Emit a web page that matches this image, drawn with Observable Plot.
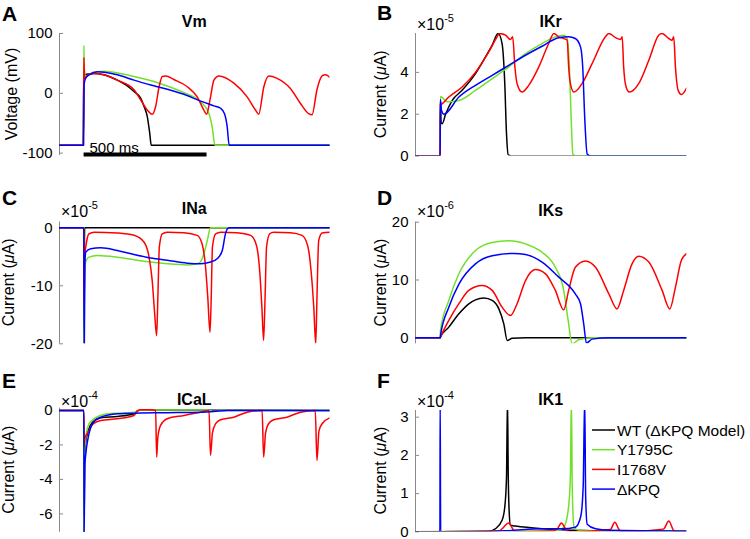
<!DOCTYPE html>
<html><head><meta charset="utf-8">
<script src="https://cdn.jsdelivr.net/npm/d3@7"></script>
<script src="https://cdn.jsdelivr.net/npm/@observablehq/plot@0.6"></script>
<style>
body{margin:0;background:#fff}
#root{position:relative;width:750px;height:539px;font-family:"Liberation Sans",Arial,Helvetica,sans-serif;overflow:hidden;background:#fff}
#root svg{position:absolute}
</style></head><body><div id="root"></div>
<script>
// ---------- series ----------
const seriesNames = ["WT (\u0394KPQ Model)", "Y1795C", "I1768V", "\u0394KPQ"];
const seriesColors = ["#000000", "#72e02a", "#ff0000", "#0000ff"];
const timeDomain = [0, 1100]; // ms

// ---------- A: Vm (mV) ----------
const vmWT = [[0,-87],[96,-87],[99,20],[102,30],[110,32],[140,33],[180,31],[235,22],[270,14],[303,3],[330,-8],[344,-22],[357,-39],[367,-67],[373,-87],[1100,-87]];
const vmY1795C = [[0,-87],[97,-87],[99,80],[101,40],[108,28],[125,33],[160,36],[180,37],[303,28],[411,16],[506,1],[574,-14],[608,-34],[622,-59],[632,-87],[1100,-87]];
const vmI1768V = [[0,-87],[97,-87],[99,60],[102,25],[115,30],[141,33],[180,31],[235,22],[303,6],[330,-11],[357,-28],[377,-35],[391,-22],[405,11],[418,28],[432,29],[465,23],[520,11],[560,-6],[587,-28],[598,-35],[612,-11],[628,22],[648,29],[709,17],[763,-6],[797,-28],[810,-35],[831,11],[851,29],[885,25],[939,8],[980,-17],[1013,-34],[1027,-36],[1047,6],[1068,29],[1081,31],[1099,27]];
const vmDKPQ = [[0,-87],[98,-87],[100,15],[105,24],[120,31],[154,36],[235,31],[303,22],[371,14],[438,6.7],[506,-1.7],[574,-13],[628,-21],[655,-25],[671,-34],[682,-56],[690,-87],[1100,-87]];
const vmTicks = [-100, 0, 100];
const scaleBarMs = [100, 600];
const scaleBarLabel = "500 ms";

// ---------- B: IKr (x1e-5 uA) ----------
const ikrWT = [[0,0],[100,0],[101,2.6],[104,1.6],[108,1.54],[122,2.0],[149,2.66],[189,3.14],[243,3.94],[284,4.74],[311,5.3],[335,5.86],[351,5.38],[362,3.46],[369,1.06],[376,0.06],[390,0],[1100,0]];
const ikrY1795C = [[0,0],[100,0],[101,2.85],[108,2.8],[128,2.6],[176,2.66],[243,3.14],[311,3.7],[378,4.26],[446,4.9],[513,5.38],[567,5.7],[601,5.78],[615,5.6],[624,4.26],[631,1.86],[638,0.1],[650,0],[1100,0]];
const ikrI1768V = [[0,0],[100,0],[101,2.46],[108,2.5],[135,2.82],[189,3.3],[243,4.0],[297,4.98],[331,5.7],[340,5.86],[365,5.78],[385,5.57],[394,5.7],[403,4.26],[412,3.46],[432,3.06],[459,3.38],[500,4.26],[540,5.38],[561,5.86],[581,5.7],[601,5.62],[615,5.54],[621,4.26],[628,3.46],[642,3.06],[675,3.46],[716,4.42],[770,5.7],[784,5.86],[811,5.66],[831,5.57],[838,5.7],[844,4.26],[854,3.3],[867,3.06],[905,3.46],[946,4.58],[986,5.78],[1000,5.86],[1027,5.62],[1040,5.54],[1047,5.7],[1054,4.26],[1065,3.14],[1078,2.94],[1100,3.26]];
const ikrDKPQ = [[0,0],[100,0],[101,2.7],[105,2.2],[115,2.0],[176,2.82],[243,3.38],[311,3.86],[378,4.34],[446,4.82],[513,5.25],[581,5.66],[621,5.7],[648,5.62],[669,5.22],[678,4.26],[686,1.86],[696,0.1],[710,0],[1100,0]];
const ikrTicks = [0, 2, 4];

// ---------- C: INa (x1e-5 uA) ----------
const inaWT = [[0,0],[99,0],[100,-20],[102,0],[1100,0]];
const inaY1795C = [[0,0],[99,0],[100,-20],[102,-8],[106,-6],[120,-5.06],[154,-4.77],[235,-5.06],[303,-5.5],[371,-5.9],[438,-6.2],[520,-6.4],[567,-6.1],[587,-4.5],[601,-2.2],[614,0],[1100,0]];
const inaI1768V = [[0,0],[99,0],[100,-13],[103,-5],[111,-2.2],[120,-1.03],[141,-0.75],[235,-0.9],[303,-1.3],[344,-2.5],[364,-5],[377,-9.1],[387,-14.8],[395,-18.6],[400,-12],[406,-3.3],[418,-1.03],[438,-0.75],[506,-0.85],[560,-1.3],[580,-2.8],[594,-6.8],[603,-12],[612,-18],[617,-12],[622,-3.3],[635,-1.03],[655,-0.75],[722,-0.85],[777,-1.3],[801,-3.05],[814,-7.4],[823,-13.7],[830,-19.4],[836,-12],[842,-3.3],[855,-1.03],[871,-0.75],[939,-0.85],[986,-1.3],[1009,-3.05],[1023,-7.4],[1034,-13.7],[1042,-20],[1047,-12],[1054,-2.2],[1068,-0.9],[1099,-0.75]];
const inaDKPQ = [[0,0],[99,0],[100,-20],[101,-20],[103,-6],[107,-4.2],[127,-3.6],[168,-3.45],[235,-3.9],[303,-4.6],[371,-5.2],[438,-5.6],[520,-6.1],[574,-6.2],[614,-5.9],[641,-5.34],[662,-3.9],[675,-1.0],[682,-0.2],[691,0],[1100,0]];
const inaTicks = [-20, -10, 0];

// ---------- D: IKs (x1e-6 uA) ----------
const iksWT = [[0,0],[100,0],[101,0.1],[135,1.84],[176,4.15],[216,5.88],[243,6.57],[277,6.9],[311,6.46],[338,5.0],[358,2.4],[372,-0.46],[392,-0.1],[446,0],[1100,0]];
const iksY1795C = [[0,0],[100,0],[101,1.2],[135,6.46],[176,11.07],[243,15.1],[311,16.5],[378,16.8],[446,16.25],[513,14.8],[567,12.2],[601,8.2],[619,3.0],[635,-1.04],[662,-0.35],[716,0],[1100,0]];
const iksI1768V = [[0,0],[100,0],[101,0.1],[135,3.0],[176,5.9],[216,8.2],[270,9.05],[311,8.2],[351,5.3],[385,3.86],[412,5.9],[446,9.9],[486,11.8],[527,11.07],[567,8.2],[601,4.84],[621,8.2],[648,12.2],[689,13.3],[730,12.2],[784,7.6],[817,5.0],[844,8.2],[878,12.8],[905,14.1],[946,13.1],[1000,8.2],[1031,5.0],[1054,8.76],[1078,13.4],[1100,14.6]];
const iksDKPQ = [[0,0],[100,0],[101,0.3],[135,5.3],[176,9.3],[243,12.8],[311,14.2],[399,14.6],[446,14.4],[513,13.1],[581,10.5],[648,7.6],[669,5.9],[682,2.4],[693,-0.92],[716,-0.23],[784,0],[1100,0]];
const iksTicks = [0, 10, 20];

// ---------- E: ICaL (x1e-4 uA) ----------
const icalWT = [[0,0],[99,0],[100,-7.06],[102,-3.2],[106,-1.93],[117,-1.16],[134,-0.68],[168,-0.43],[235,-0.35],[303,-0.19],[317,-0.02],[330,0.02],[1100,0]];
const icalY1795C = [[0,0],[99,0],[100,-7.0],[102,-2.5],[107,-1.55],[120,-0.77],[141,-0.48],[195,-0.19],[303,-0.1],[330,0.02],[600,0.02],[630,-0.05],[660,0],[1100,0]];
const icalI1768V = [[0,0],[99,0],[100,-2.1],[103,-1.6],[117,-1.26],[134,-0.81],[168,-0.58],[235,-0.48],[303,-0.29],[317,-0.04],[330,0.04],[371,0.04],[391,0],[395,-2.7],[400,-1.55],[411,-0.87],[438,-0.48],[506,-0.29],[574,-0.1],[608,0],[614,-2.6],[622,-1.3],[635,-0.77],[655,-0.54],[709,-0.39],[763,-0.1],[824,0],[830,-2.7],[838,-1.3],[850,-0.77],[871,-0.54],[925,-0.39],[980,-0.1],[1040,0],[1047,-2.9],[1055,-1.2],[1068,-0.77],[1099,-0.43]];
const icalDKPQ = [[0,0],[99,0],[100,-7.06],[101,-6],[103,-3.2],[107,-2.5],[117,-1.55],[134,-0.77],[168,-0.39],[235,-0.19],[330,-0.15],[438,-0.13],[574,-0.1],[628,-0.06],[682,0],[1100,0]];
const icalTicks = [-6, -4, -2, 0];

// ---------- F: IK1 (x1e-4 uA) ----------
const ik1WT = [[0,0],[100,0],[297,0.01],[324,0.08],[351,0.3],[362,0.65],[369,1.43],[373,3.5],[376,1.5],[380,0.5],[385,0.17],[405,0.15],[513,0.08],[648,0.04],[784,0.02],[1100,0.01]];
const ik1Y1795C = [[0,0],[100,0.01],[500,0.02],[580,0.05],[601,0.12],[619,0.56],[628,1.43],[632,3.5],[636,1.0],[643,0.12],[662,0.04],[784,0.02],[1100,0.01]];
const ik1I1768V = [[0,0],[100,0],[340,0.02],[351,0.08],[378,0.23],[392,0.1],[402,0.0],[560,0.02],[575,0.08],[592,0.23],[608,0.08],[621,0.0],[790,0.06],[808,0.25],[825,0.06],[833,0.0],[1005,0.07],[1027,0.28],[1045,0.05],[1052,0.0],[1100,0]];
const ik1DKPQ = [[0,0],[99,0],[100,3.5],[102,0.0],[300,0.01],[378,0.03],[513,0.08],[594,0.08],[648,0.12],[670,0.4],[680,1.2],[686,3.5],[690,0.9],[696,0.2],[730,0.08],[784,0.04],[1100,0.02]];
const ik1Ticks = [0, 1, 2, 3];

// ---------- layout ----------
const root = document.getElementById("root");
const axisColor = "#8a8a8a";
const fontFamily = "'Liberation Sans', Arial, Helvetica, sans-serif";

const panels = [
  {letter:"A", title:"Vm", left:0, top:0, h:180, mL:59, mR:45.5, mT:33, mB:25, yDomain:[-104,100], ticks:vmTicks, series:[vmWT,vmY1795C,vmI1768V,vmDKPQ], ylabel:"Voltage (mV)", labelX:17, exp:null, titleY:27, letterY:21},
  {letter:"B", title:"IKr", left:375, top:0, h:180, mL:40, mR:63.7, mT:33, mB:24.5, yDomain:[0,5.86], ticks:ikrTicks, series:[ikrWT,ikrY1795C,ikrI1768V,ikrDKPQ], ylabel:"Current", labelX:386, exp:"-5", expY:30, titleY:27, letterY:20},
  {letter:"C", title:"INa", left:0, top:180, h:180, mL:59, mR:45.5, mT:41.5, mB:16.7, yDomain:[-20,1], ticks:inaTicks, series:[inaWT,inaY1795C,inaI1768V,inaDKPQ], ylabel:"Current", labelX:14, exp:"-5", expY:216.5, titleY:213.5, letterY:205},
  {letter:"D", title:"IKs", left:375, top:180, h:180, mL:40, mR:63.7, mT:41.7, mB:16.7, yDomain:[-1.04,20], ticks:iksTicks, series:[iksWT,iksY1795C,iksI1768V,iksDKPQ], ylabel:"Current", labelX:386, exp:"-6", expY:217, titleY:215.5, letterY:205},
  {letter:"E", title:"ICaL", left:0, top:360, h:179, mL:59, mR:45.5, mT:47.7, mB:7.3, yDomain:[-7.06,0.13], ticks:icalTicks, series:[icalWT,icalY1795C,icalI1768V,icalDKPQ], ylabel:"Current", labelX:14, exp:"-4", expY:406.5, titleY:405, letterY:388},
  {letter:"F", title:"IK1", left:375, top:360, h:179, mL:40, mR:63.7, mT:50, mB:7.7, yDomain:[0,3.175], ticks:ik1Ticks, series:[ik1WT,ik1Y1795C,ik1I1768V,ik1DKPQ], ylabel:"Current", labelX:386, exp:"-4", expY:406.5, titleY:405, letterY:388}
];

for (const p of panels) {
  const plotW = 375 - p.mL - p.mR;
  const marks = [
    Plot.ruleX([timeDomain[0]], {stroke: axisColor, strokeWidth: 1}),
    Plot.tickY(p.ticks, {y: d => d, stroke: axisColor, strokeWidth: 1, insetRight: plotW - 4}),
    Plot.text(p.ticks, {y: d => d, frameAnchor: "left", dx: -7, textAnchor: "end", text: d => String(d), fontSize: 15, fill: "#000"}),
    ...p.series.map((s, i) => Plot.line(s, {x: d => d[0], y: d => d[1], stroke: seriesColors[i], strokeWidth: 1.5, curve: "monotone-x", clip: true}))
  ];
  if (p.letter === "A") {
    marks.push(Plot.ruleY([-102.5], {x1: scaleBarMs[0], x2: scaleBarMs[1], stroke: "#000", strokeWidth: 4}));
    marks.push(Plot.text([scaleBarLabel], {x: scaleBarMs[0] + 22, y: -100, text: d => d, textAnchor: "start", lineAnchor: "bottom", fontSize: 15, fill: "#000"}));
  }
  const chart = Plot.plot({
    width: 375, height: p.h,
    marginLeft: p.mL, marginRight: p.mR, marginTop: p.mT, marginBottom: p.mB,
    x: {domain: timeDomain, axis: null},
    y: {domain: p.yDomain, axis: null},
    style: {fontFamily, fontSize: "15px", background: "transparent", overflow: "visible"},
    marks
  });
  chart.style.position = "absolute";
  chart.style.left = p.left + "px";
  chart.style.top = p.top + "px";
  root.appendChild(chart);
}

// ---------- text overlay ----------
const ov = d3.select(root).append("svg").attr("width", 750).attr("height", 539)
  .style("left", "0px").style("top", "0px").style("font-family", fontFamily).style("pointer-events", "none");

for (const p of panels) {
  const x0 = p.left + p.mL, x1 = p.left + 375 - p.mR;
  const y0 = p.top + p.mT, y1 = p.top + p.h - p.mB;
  ov.append("text").attr("x", p.left + 2).attr("y", p.letterY).attr("font-size", 21).attr("font-weight", "bold").text(p.letter);
  ov.append("text").attr("x", (x0 + x1) / 2).attr("y", p.titleY).attr("text-anchor", "middle").attr("font-size", 16).attr("font-weight", "bold").text(p.title);
  const lab = ov.append("text").attr("transform", `translate(${p.labelX},${(y0 + y1) / 2}) rotate(-90)`).attr("text-anchor", "middle").attr("font-size", 16);
  if (p.ylabel === "Current") {
    lab.append("tspan").text("Current (");
    lab.append("tspan").attr("font-style", "italic").text("\u03bc");
    lab.append("tspan").text("A)");
  } else lab.text(p.ylabel);
  if (p.exp) {
    const t = ov.append("text").attr("x", x0 + 2).attr("y", p.expY).attr("font-size", 16);
    t.append("tspan").text("\u00d710");
    t.append("tspan").attr("font-size", 11).attr("dy", -8).text(p.exp);
  }
}

// legend in panel F
const legX = 592, legY0 = 430, legStep = 19.7;
seriesNames.forEach((name, i) => {
  const y = legY0 + i * legStep;
  ov.append("line").attr("x1", legX).attr("x2", legX + 23).attr("y1", y).attr("y2", y).attr("stroke", seriesColors[i]).attr("stroke-width", 1.5);
  ov.append("text").attr("x", legX + 25).attr("y", y + 5.5).attr("font-size", 15.5).text(name);
});
</script></body></html>
